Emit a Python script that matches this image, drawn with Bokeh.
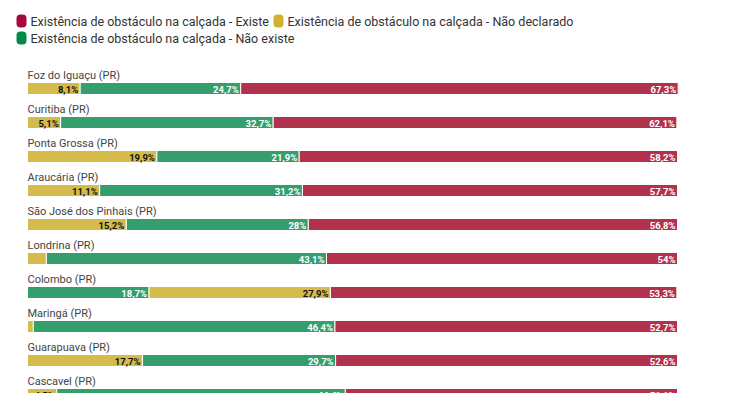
from bokeh.plotting import figure
from bokeh.models import ColumnDataSource, Range1d
from bokeh.core.properties import value
from bokeh.embed import file_html
from bokeh.resources import INLINE

# ---------------- data ----------------
cities = ["Foz do Iguaçu (PR)", "Curitiba (PR)", "Ponta Grossa (PR)", "Araucária (PR)",
          "São José dos Pinhais (PR)", "Londrina (PR)", "Colombo (PR)", "Maringá (PR)",
          "Guarapuava (PR)", "Cascavel (PR)"]
existe = [67.3, 62.1, 58.2, 57.7, 56.8, 54.0, 53.3, 52.7, 52.6, 51.1]
nao_declarado = [8.1, 5.1, 19.9, 11.1, 15.2, 2.9, 27.9, 0.9, 17.7, 4.5]
nao_existe = [24.7, 32.7, 21.9, 31.2, 28.0, 43.1, 18.7, 46.4, 29.7, 44.4]

series_names = ["Existência de obstáculo na calçada - Existe",
                "Existência de obstáculo na calçada - Não declarado",
                "Existência de obstáculo na calçada - Não existe"]
series_values = [existe, nao_declarado, nao_existe]

# ---------------- style ----------------
bar_colors = ["#b2324e", "#d4bb4c", "#359e6d"]
legend_colors = ["#a6093d", "#d2b12c", "#008a4b"]
label_colors = ["white", "#111111", "white"]

W, H = 740, 393
LEFT = 27          # px from canvas left to 0 %
PX_PER_PCT = 6.5
ROW_PX = 34
ROW0_PX = 88       # canvas y of first bar centre
BAR_H = 12 / ROW_PX


def fmt(v):
    s = ("%.1f" % v).rstrip("0").rstrip(".")
    return s.replace(".", ",") + "%"


# build stacked segments, sorted ascending inside each row
seg = dict(y=[], left=[], right=[], color=[], label=[], lcolor=[])
for i in range(len(cities)):
    vals = sorted([(series_values[k][i], k) for k in range(3)])
    cum = 0.0
    for v, k in vals:
        seg["y"].append(i)
        seg["left"].append(cum)
        seg["right"].append(cum + v)
        seg["color"].append(bar_colors[k])
        seg["label"].append(fmt(v) if v >= 4 else "")
        seg["lcolor"].append(label_colors[k])
        cum += v
src = ColumnDataSource(seg)

x_start = -LEFT / PX_PER_PCT
x_end = (W - LEFT) / PX_PER_PCT
y_top = -ROW0_PX / ROW_PX
y_bottom = (H - ROW0_PX) / ROW_PX

p = figure(width=W, height=H, output_backend="svg", toolbar_location=None,
           x_range=Range1d(x_start, x_end), y_range=Range1d(y_bottom, y_top),
           min_border=0, min_border_left=0, min_border_right=0,
           min_border_top=0, min_border_bottom=0)
p.axis.visible = False
p.grid.visible = False
p.outline_line_color = None
p.background_fill_color = "white"
p.border_fill_color = "white"

p.hbar(y="y", left="left", right="right", height=BAR_H, fill_color="color",
       line_color="white", line_width=1, source=src)

p.text(x="right", y="y", text="label", text_color="lcolor", source=src,
       text_align="right", text_baseline="middle", x_offset=-2, y_offset=0.5,
       text_font=value("Roboto"), text_font_size="9.5px", text_font_style="bold")

# category labels above bars
cat_src = ColumnDataSource(dict(x=[0] * len(cities), y=list(range(len(cities))), t=cities))
p.text(x="x", y="y", text="t", source=cat_src, text_align="left", text_baseline="middle",
       y_offset=-13, text_font=value("Roboto"), text_font_size="11px", text_color="#444444")

# legend (manual, two rows)
def px_x(px):
    return (px - LEFT) / PX_PER_PCT

def px_y(py):
    return (py - ROW0_PX) / ROW_PX

leg_mx = [px_x(21), px_x(278), px_x(21)]
leg_tx = [px_x(30), px_x(287), px_x(30)]
leg_y = [px_y(20.5), px_y(20.5), px_y(37.5)]
leg_src = ColumnDataSource(dict(mx=leg_mx, tx=leg_tx, y=leg_y, t=series_names, c=legend_colors))
p.rect(x="mx", y="y", width=10, height=13, width_units="screen", height_units="screen",
       fill_color="c", line_color=None, source=leg_src, border_radius=4)
p.text(x="tx", y="y", text="t", source=leg_src, text_align="left", text_baseline="middle",
       text_font=value("Roboto"), text_font_size="12.5px", text_color="#333333")

open("out.html", "w").write(file_html(p, INLINE))
